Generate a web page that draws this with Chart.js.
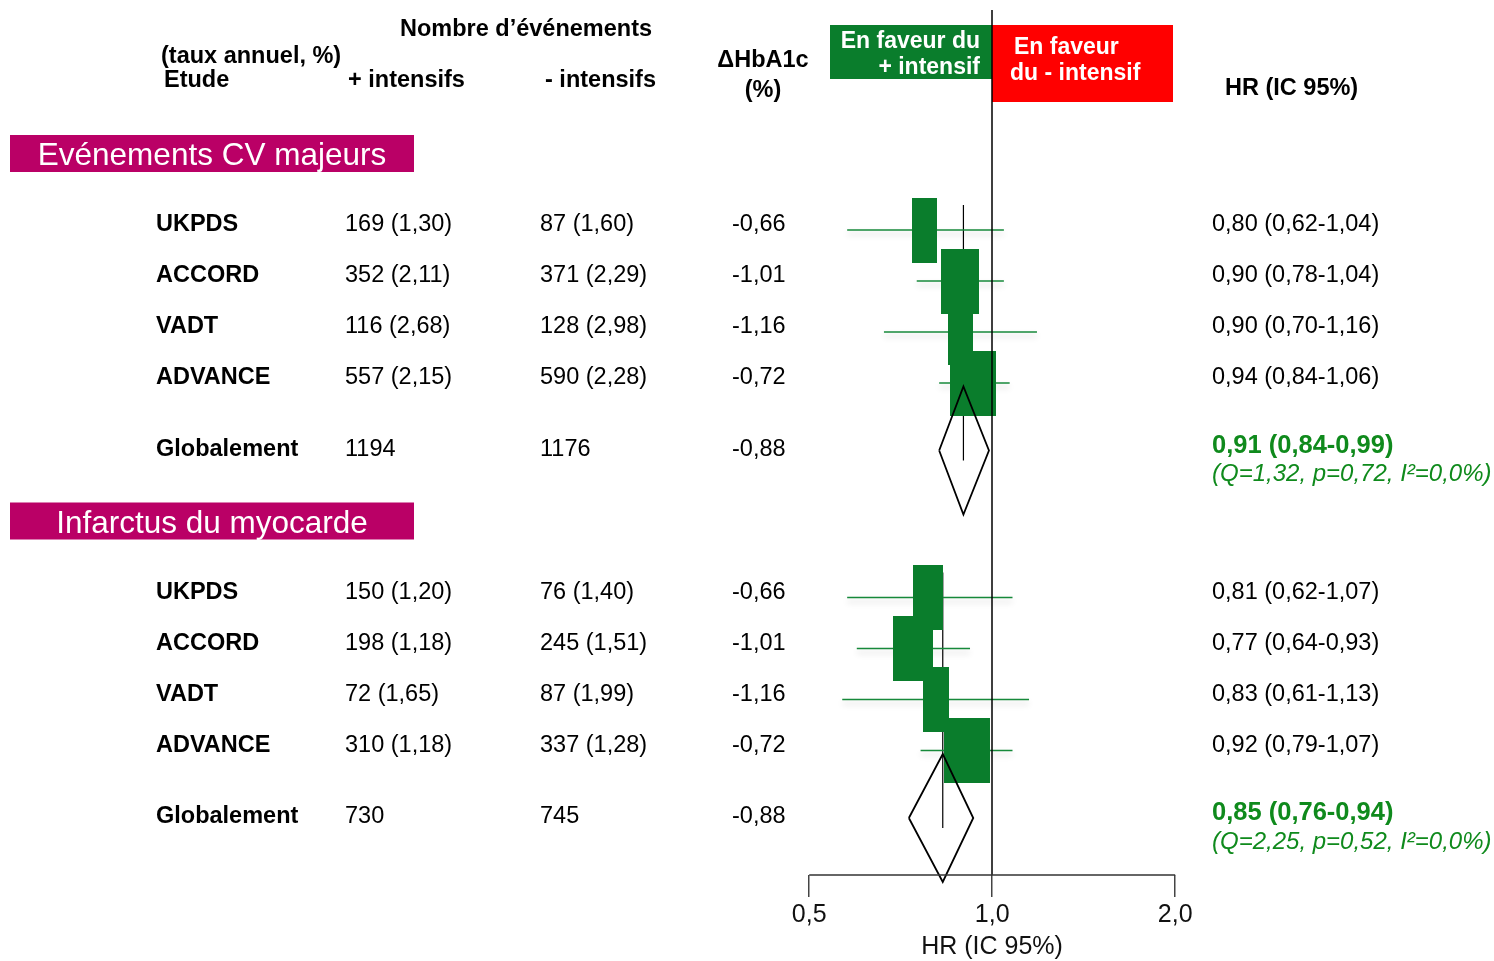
<!DOCTYPE html>
<html lang="fr">
<head>
<meta charset="utf-8">
<title>Contrôle glycémique intensif – HR (IC 95%)</title>
<script src="https://cdn.jsdelivr.net/npm/chart.js@4.4.1/dist/chart.umd.min.js"></script>
<style>
  html, body { margin: 0; padding: 0; background: #ffffff; }
  canvas { display: block; }
</style>
</head>
<body>
<canvas id="forest" width="1494" height="961"></canvas>
<script>
// ---------------- data ----------------
const studies = ['UKPDS', 'ACCORD', 'VADT', 'ADVANCE'];
const sectionTitles = ['Evénements CV majeurs', 'Infarctus du myocarde'];
const hba1cDiff = [-0.66, -1.01, -1.16, -0.72];

// Evénements CV majeurs
const cvEventsIntensive = [169, 352, 116, 557];
const cvRateIntensive = [1.30, 2.11, 2.68, 2.15];
const cvEventsStandard = [87, 371, 128, 590];
const cvRateStandard = [1.60, 2.29, 2.98, 2.28];
const cvHR = [0.80, 0.90, 0.90, 0.94];
const cvLow = [0.62, 0.78, 0.70, 0.84];
const cvHigh = [1.04, 1.04, 1.16, 1.06];

// Infarctus du myocarde
const miEventsIntensive = [150, 198, 72, 310];
const miRateIntensive = [1.20, 1.18, 1.65, 1.18];
const miEventsStandard = [76, 245, 87, 337];
const miRateStandard = [1.40, 1.51, 1.99, 1.28];
const miHR = [0.81, 0.77, 0.83, 0.92];
const miLow = [0.62, 0.64, 0.61, 0.79];
const miHigh = [1.07, 0.93, 1.13, 1.07];

// Pooled estimates (CV, IDM)
const overallEventsIntensive = [1194, 730];
const overallEventsStandard = [1176, 745];
const overallHbA1c = [-0.88, -0.88];
const overallHR = [0.91, 0.85];
const overallLow = [0.84, 0.76];
const overallHigh = [0.99, 0.94];
const heteroQ = [1.32, 2.25];
const heteroP = [0.72, 0.52];
const heteroI2 = [0.0, 0.0];

const axisTicks = [0.5, 1, 2];

// ---------------- layout & style ----------------
const FONT = "'Liberation Sans', Arial, Helvetica, sans-serif";
const GREEN = '#0a7d2c';
const CI_GREEN = '#16893a';
const TEXT_GREEN = '#0f8a1c';
const MAGENTA = '#ba0066';
const RED = '#ff0000';

const Y_MAX = 17.3;                 // vertical extent in row units
const GROUP_FIRST_ROW = [4.4, 11.75];
const ROW_STEP = 1.02;
const OVERALL_GAP = 1.35;
const DIAMOND_HALF = 1.28;
const BOX_HEIGHT = 65;
const BOX_MAX_WIDTH = 46;

const groups = [
  { evI: cvEventsIntensive, rI: cvRateIntensive, evS: cvEventsStandard, rS: cvRateStandard,
    hr: cvHR, lo: cvLow, hi: cvHigh },
  { evI: miEventsIntensive, rI: miRateIntensive, evS: miEventsStandard, rS: miRateStandard,
    hr: miHR, lo: miLow, hi: miHigh }
];

const studyRow = (g, i) => GROUP_FIRST_ROW[g] + i * ROW_STEP;
const overallRow = g => GROUP_FIRST_ROW[g] + (studies.length - 1) * ROW_STEP + OVERALL_GAP;

const fr = (v, d) => v.toFixed(d).replace('.', ',');

// box width follows the study's event count within its group
function boxImage(width) {
  const c = document.createElement('canvas');
  c.width = Math.max(1, Math.round(width));
  c.height = BOX_HEIGHT;
  const g = c.getContext('2d');
  g.fillStyle = GREEN;
  g.fillRect(0, 0, c.width, c.height);
  return c;
}

// ---------------- datasets ----------------
const datasets = [];

// reference line at HR = 1
datasets.push({
  label: 'ref', data: [{ x: 1, y: 0 }, { x: 1, y: Y_MAX }],
  showLine: true, borderColor: '#000', borderWidth: 1.5, pointRadius: 0, order: 2
});

groups.forEach((grp, g) => {
  // confidence intervals
  studies.forEach((s, i) => {
    datasets.push({
      label: 'ci', ciShadow: true,
      data: [{ x: grp.lo[i], y: studyRow(g, i) }, { x: grp.hi[i], y: studyRow(g, i) }],
      showLine: true, borderColor: CI_GREEN, borderWidth: 1.6, pointRadius: 0, order: 4
    });
  });

  // weighted boxes
  const totals = studies.map((s, i) => grp.evI[i] + grp.evS[i]);
  const maxTotal = Math.max(...totals);
  const images = totals.map(t => boxImage(BOX_MAX_WIDTH * Math.pow(t / maxTotal, 0.4)));
  datasets.push({
    label: 'box',
    data: studies.map((s, i) => ({ x: grp.hr[i], y: studyRow(g, i) })),
    pointStyle: images, pointRadius: 5, showLine: false, order: 3
  });

  // pooled estimate marker line
  datasets.push({
    label: 'pooled-line',
    data: [{ x: overallHR[g], y: studyRow(g, 0) - 0.5 }, { x: overallHR[g], y: overallRow(g) + 0.2 }],
    showLine: true, borderColor: '#000', borderWidth: 1.2, pointRadius: 0, order: 5
  });

  // pooled diamond
  const r = overallRow(g);
  datasets.push({
    label: 'diamond',
    data: [
      { x: overallLow[g], y: r }, { x: overallHR[g], y: r - DIAMOND_HALF },
      { x: overallHigh[g], y: r }, { x: overallHR[g], y: r + DIAMOND_HALF },
      { x: overallLow[g], y: r }
    ],
    showLine: true, fill: false, borderColor: '#000', borderWidth: 1.8, clip: false,
    borderJoinStyle: 'miter', pointRadius: 0, tension: 0, order: 1
  });
});

// ---------------- plugins ----------------
const ciShadow = {
  id: 'ciShadow',
  beforeDatasetDraw(chart, args) {
    const ds = chart.data.datasets[args.index];
    if (ds.ciShadow) {
      const ctx = chart.ctx;
      ctx.save();
      ctx.shadowColor = 'rgba(0,0,0,0.2)';
      ctx.shadowBlur = 6;
      ctx.shadowOffsetY = 4;
    }
  },
  afterDatasetDraw(chart, args) {
    if (chart.data.datasets[args.index].ciShadow) chart.ctx.restore();
  }
};

function text(ctx, s, x, y, opts = {}) {
  ctx.font = `${opts.style || 'normal'} ${opts.weight || 'normal'} ${opts.size || 23.5}px ${FONT}`;
  ctx.fillStyle = opts.color || '#000';
  ctx.textAlign = opts.align || 'left';
  ctx.textBaseline = 'middle';
  ctx.fillText(s, x, y + 2);
}

const panels = {
  id: 'panels',
  beforeDatasetsDraw(chart) {
    const ctx = chart.ctx;
    const xOne = chart.scales.x.getPixelForValue(1);
    ctx.save();
    // direction-of-effect labels
    ctx.fillStyle = GREEN;
    ctx.fillRect(830, 25, xOne - 830, 54);
    ctx.fillStyle = RED;
    ctx.fillRect(xOne, 25, 1173 - xOne, 77);
    text(ctx, 'En faveur du', xOne - 12, 40, { weight: 'bold', color: '#fff', size: 23, align: 'right' });
    text(ctx, '+ intensif', xOne - 12, 66, { weight: 'bold', color: '#fff', size: 23, align: 'right' });
    text(ctx, 'En faveur', xOne + 22, 46, { weight: 'bold', color: '#fff', size: 23 });
    text(ctx, 'du - intensif', xOne + 18, 72, { weight: 'bold', color: '#fff', size: 23 });
    ctx.restore();
  },
  afterDraw(chart) {
    const ctx = chart.ctx;
    const y = chart.scales.y;
    const xa = chart.scales.xa;
    ctx.save();

    // bottom axis line between the outer ticks
    ctx.strokeStyle = '#333';
    ctx.lineWidth = 1.5;
    ctx.beginPath();
    ctx.moveTo(xa.getPixelForValue(axisTicks[0]), chart.chartArea.bottom);
    ctx.lineTo(xa.getPixelForValue(axisTicks[axisTicks.length - 1]), chart.chartArea.bottom);
    ctx.stroke();

    // column headers
    const B = { weight: 'bold' };
    text(ctx, 'Nombre d\u2019événements', 400, 28, B);
    text(ctx, '(taux annuel, %)', 161, 55, B);
    text(ctx, 'Etude', 164, 79, B);
    text(ctx, '+ intensifs', 348, 79, B);
    text(ctx, '- intensifs', 545, 79, B);
    text(ctx, '\u0394HbA1c', 763, 59, { weight: 'bold', align: 'center' });
    text(ctx, '(%)', 763, 89, { weight: 'bold', align: 'center' });
    text(ctx, 'HR (IC 95%)', 1225, 87, B);

    groups.forEach((grp, g) => {
      // section band
      const bandY = y.getPixelForValue(studyRow(g, 0) - 1.53);
      ctx.fillStyle = MAGENTA;
      ctx.fillRect(10, bandY - 18.5, 404, 37);
      text(ctx, sectionTitles[g], 212, bandY + 1, { size: 31.5, color: '#fff', align: 'center' });

      // study rows
      studies.forEach((s, i) => {
        const ty = y.getPixelForValue(studyRow(g, i)) - 7;
        text(ctx, s, 156, ty, B);
        text(ctx, `${grp.evI[i]} (${fr(grp.rI[i], 2)})`, 345, ty);
        text(ctx, `${grp.evS[i]} (${fr(grp.rS[i], 2)})`, 540, ty);
        text(ctx, fr(hba1cDiff[i], 2), 732, ty);
        text(ctx, `${fr(grp.hr[i], 2)} (${fr(grp.lo[i], 2)}-${fr(grp.hi[i], 2)})`, 1212, ty);
      });

      // pooled row
      const oy = y.getPixelForValue(overallRow(g));
      text(ctx, 'Globalement', 156, oy - 3, B);
      text(ctx, String(overallEventsIntensive[g]), 345, oy - 3);
      text(ctx, String(overallEventsStandard[g]), 540, oy - 3);
      text(ctx, fr(overallHbA1c[g], 2), 732, oy - 3);
      text(ctx, `${fr(overallHR[g], 2)} (${fr(overallLow[g], 2)}-${fr(overallHigh[g], 2)})`, 1212, oy - 7,
        { weight: 'bold', size: 25.5, color: TEXT_GREEN });
      text(ctx, `(Q=${fr(heteroQ[g], 2)}, p=${fr(heteroP[g], 2)}, I\u00b2=${fr(heteroI2[g], 1)}%)`, 1212, oy + 22,
        { style: 'italic', size: 24, color: TEXT_GREEN });
    });
    ctx.restore();
  }
};

// ---------------- chart ----------------
new Chart(document.getElementById('forest'), {
  type: 'scatter',
  data: { datasets },
  options: {
    responsive: false,
    animation: false,
    devicePixelRatio: 1,
    layout: { padding: { left: 782, right: 292, top: 10, bottom: 0 } },
    plugins: { legend: { display: false }, tooltip: { enabled: false } },
    scales: {
      x: { type: 'logarithmic', min: 0.5, max: 2, display: false },
      y: { type: 'linear', min: 0, max: Y_MAX, reverse: true, display: false },
      xa: {
        type: 'logarithmic', position: 'bottom', axis: 'x',
        min: 0.451, max: 2.214,
        afterBuildTicks: s => { s.ticks = axisTicks.map(v => ({ value: v })); },
        afterFit: s => { s.height = 86; },
        border: { display: false },
        grid: { drawOnChartArea: false, drawTicks: true, tickLength: 22, color: '#444', lineWidth: 1.5 },
        ticks: {
          autoSkip: false, maxRotation: 0, padding: 3, color: '#111',
          font: { family: FONT, size: 25 },
          callback: v => fr(v, 1)
        },
        title: {
          display: true, text: 'HR (IC 95%)', color: '#111',
          font: { family: FONT, size: 25 }, padding: { top: 0, bottom: -1 }
        }
      }
    }
  },
  plugins: [ciShadow, panels]
});
</script>
</body>
</html>
